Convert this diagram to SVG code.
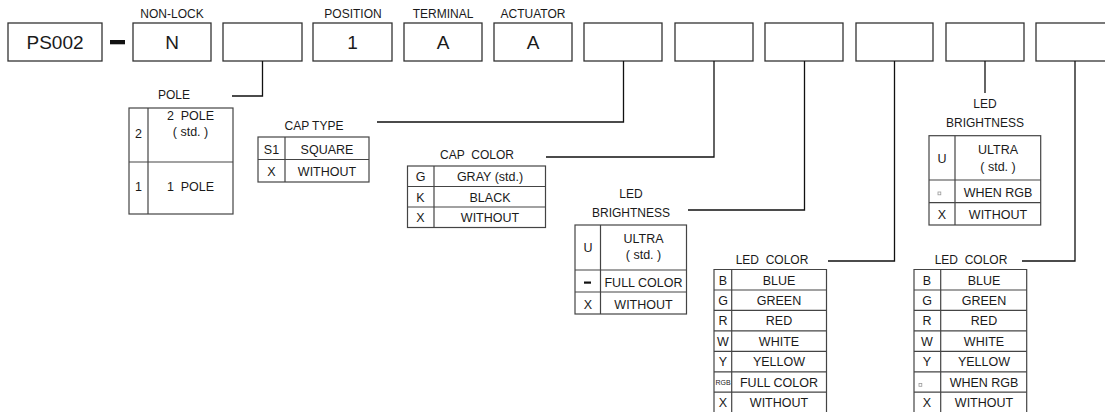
<svg xmlns="http://www.w3.org/2000/svg" width="1105" height="412" viewBox="0 0 1105 412">
<style>
text{font-family:"Liberation Sans",Arial,sans-serif;fill:#1a1a1a;text-anchor:middle}
.lbl{font-size:12px}
.big{font-size:19px}
.t{font-size:12.5px}
.pre{white-space:pre}
.box{fill:#fff;stroke:#333;stroke-width:1.3}
.tb{fill:none;stroke:#444;stroke-width:1.2}
.conn{fill:none;stroke:#111;stroke-width:1.3}
.sm{fill:none;stroke:#999;stroke-width:0.8}
</style>
<rect width="1105" height="412" fill="#fff"/>

<g id="top-labels">
<text class="lbl" x="172" y="18">NON-LOCK</text>
<text class="lbl" x="353" y="18">POSITION</text>
<text class="lbl" x="443" y="18">TERMINAL</text>
<text class="lbl" x="533" y="18">ACTUATOR</text>
</g>

<g id="box-ps002"><rect class="box" x="8" y="23" width="94" height="38"/><text class="big" x="55" y="49">PS002</text></g>
<g id="dash"><rect x="110" y="40" width="15" height="4.3" fill="#111"/></g>
<g id="box-n"><rect class="box" x="133" y="23" width="78" height="38"/><text class="big" x="172" y="49">N</text></g>
<g id="box-pole"><rect class="box" x="223" y="23" width="79" height="38"/></g>
<g id="box-position"><rect class="box" x="313" y="23" width="79" height="38"/><text class="big" x="352.5" y="49">1</text></g>
<g id="box-terminal"><rect class="box" x="404" y="23" width="78" height="38"/><text class="big" x="443" y="49">A</text></g>
<g id="box-actuator"><rect class="box" x="494" y="23" width="78" height="38"/><text class="big" x="533" y="49">A</text></g>
<g id="box-captype"><rect class="box" x="584" y="23" width="78" height="38"/></g>
<g id="box-capcolor"><rect class="box" x="675" y="23" width="78" height="38"/></g>
<g id="box-ledbright1"><rect class="box" x="765" y="23" width="78" height="38"/></g>
<g id="box-ledcolor1"><rect class="box" x="856" y="23" width="77" height="38"/></g>
<g id="box-ledbright2"><rect class="box" x="946" y="23" width="78" height="38"/></g>
<g id="box-ledcolor2"><rect class="box" x="1036" y="23" width="78" height="38"/></g>

<g id="connectors">
<polyline class="conn" points="262.5,61 262.5,96 232,96"/>
<polyline class="conn" points="623.5,61 623.5,122 377,122"/>
<polyline class="conn" points="714,61 714,157 546,157"/>
<polyline class="conn" points="804.5,61 804.5,210 688,210"/>
<polyline class="conn" points="894.5,61 894.5,261 828,261"/>
<polyline class="conn" points="985,61 985,93"/>
<polyline class="conn" points="1075,61 1075,261 1022,261"/>
</g>

<g id="table-pole">
<text class="lbl" x="174" y="99">POLE</text>
<rect class="tb" x="129" y="108" width="104" height="106"/>
<line class="tb" x1="148" y1="108" x2="148" y2="214"/>
<line class="tb" x1="129" y1="162" x2="233" y2="162"/>
<text class="t" x="138.5" y="138">2</text>
<text class="t pre" x="190.5" y="120">2  POLE</text>
<text class="t" x="190.5" y="136">( std. )</text>
<text class="t" x="138.5" y="191">1</text>
<text class="t pre" x="190.5" y="191">1  POLE</text>
</g>

<g id="table-captype">
<text class="lbl" x="314" y="130">CAP TYPE</text>
<rect class="tb" x="258" y="137" width="111" height="45"/>
<line class="tb" x1="285" y1="137" x2="285" y2="182"/>
<line class="tb" x1="258" y1="159.5" x2="369" y2="159.5"/>
<text class="t" x="271.5" y="153.5">S1</text>
<text class="t" x="327" y="153.5">SQUARE</text>
<text class="t" x="271.5" y="176">X</text>
<text class="t" x="327" y="176">WITHOUT</text>
</g>

<g id="table-capcolor">
<text class="lbl pre" x="477" y="159">CAP  COLOR</text>
<rect class="tb" x="407.5" y="166" width="138" height="61.5"/>
<line class="tb" x1="434" y1="166" x2="434" y2="227.5"/>
<line class="tb" x1="407.5" y1="186.5" x2="545.5" y2="186.5"/>
<line class="tb" x1="407.5" y1="207" x2="545.5" y2="207"/>
<text class="t" x="420.5" y="181">G</text>
<text class="t" x="490" y="181">GRAY (std.)</text>
<text class="t" x="420.5" y="201.5">K</text>
<text class="t" x="490" y="201.5">BLACK</text>
<text class="t" x="420.5" y="222">X</text>
<text class="t" x="490" y="222">WITHOUT</text>
</g>

<g id="table-ledbright1">
<text class="lbl" x="631" y="198">LED</text>
<text class="lbl" x="631" y="217">BRIGHTNESS</text>
<rect class="tb" x="575" y="225" width="111.5" height="89"/>
<line class="tb" x1="600.5" y1="225" x2="600.5" y2="314"/>
<line class="tb" x1="575" y1="270" x2="686.5" y2="270"/>
<line class="tb" x1="575" y1="292" x2="686.5" y2="292"/>
<text class="t" x="588" y="252">U</text>
<text class="t" x="643.5" y="243">ULTRA</text>
<text class="t" x="643.5" y="259">( std. )</text>
<rect x="584" y="281.5" width="7" height="2.2" fill="#111"/>
<text class="t" x="643.5" y="286.5">FULL COLOR</text>
<text class="t" x="588" y="308.5">X</text>
<text class="t" x="643.5" y="308.5">WITHOUT</text>
</g>

<g id="table-ledcolor1">
<text class="lbl pre" x="772" y="264">LED  COLOR</text>
<polyline class="tb" points="714,413 714,269.5 826.5,269.5 826.5,413"/>
<line class="tb" x1="731.7" y1="269.5" x2="731.7" y2="413"/>
<line class="tb" x1="714" y1="290" x2="826.5" y2="290"/>
<line class="tb" x1="714" y1="310.4" x2="826.5" y2="310.4"/>
<line class="tb" x1="714" y1="330.9" x2="826.5" y2="330.9"/>
<line class="tb" x1="714" y1="351.3" x2="826.5" y2="351.3"/>
<line class="tb" x1="714" y1="371.8" x2="826.5" y2="371.8"/>
<line class="tb" x1="714" y1="392.2" x2="826.5" y2="392.2"/>
<text class="t" x="723" y="284.5">B</text>
<text class="t" x="779" y="284.5">BLUE</text>
<text class="t" x="723" y="305">G</text>
<text class="t" x="779" y="305">GREEN</text>
<text class="t" x="723" y="325.4">R</text>
<text class="t" x="779" y="325.4">RED</text>
<text class="t" x="723" y="345.9">W</text>
<text class="t" x="779" y="345.9">WHITE</text>
<text class="t" x="723" y="366.3">Y</text>
<text class="t" x="779" y="366.3">YELLOW</text>
<text x="723" y="385" style="font-size:7px">RGB</text>
<text class="t" x="779" y="386.8">FULL COLOR</text>
<text class="t" x="723" y="407.2">X</text>
<text class="t" x="779" y="407.2">WITHOUT</text>
</g>

<g id="table-ledbright2">
<text class="lbl" x="985" y="108">LED</text>
<text class="lbl" x="985" y="127">BRIGHTNESS</text>
<rect class="tb" x="929" y="135.7" width="111.7" height="89.3"/>
<line class="tb" x1="955" y1="135.7" x2="955" y2="225"/>
<line class="tb" x1="929" y1="180" x2="1040.7" y2="180"/>
<line class="tb" x1="929" y1="202.7" x2="1040.7" y2="202.7"/>
<text class="t" x="942" y="163">U</text>
<text class="t" x="998" y="154">ULTRA</text>
<text class="t" x="998" y="170.5">( std. )</text>
<rect class="sm" x="938" y="192" width="2.8" height="2.8"/>
<text class="t" x="998" y="196.5">WHEN RGB</text>
<text class="t" x="942" y="219">X</text>
<text class="t" x="998" y="219">WITHOUT</text>
</g>

<g id="table-ledcolor2">
<text class="lbl pre" x="971" y="264">LED  COLOR</text>
<polyline class="tb" points="914,413 914,269.5 1026.7,269.5 1026.7,413"/>
<line class="tb" x1="940.7" y1="269.5" x2="940.7" y2="413"/>
<line class="tb" x1="914" y1="290" x2="1026.7" y2="290"/>
<line class="tb" x1="914" y1="310.4" x2="1026.7" y2="310.4"/>
<line class="tb" x1="914" y1="330.9" x2="1026.7" y2="330.9"/>
<line class="tb" x1="914" y1="351.3" x2="1026.7" y2="351.3"/>
<line class="tb" x1="914" y1="371.8" x2="1026.7" y2="371.8"/>
<line class="tb" x1="914" y1="392.2" x2="1026.7" y2="392.2"/>
<text class="t" x="927" y="284.5">B</text>
<text class="t" x="984" y="284.5">BLUE</text>
<text class="t" x="927" y="305">G</text>
<text class="t" x="984" y="305">GREEN</text>
<text class="t" x="927" y="325.4">R</text>
<text class="t" x="984" y="325.4">RED</text>
<text class="t" x="927" y="345.9">W</text>
<text class="t" x="984" y="345.9">WHITE</text>
<text class="t" x="927" y="366.3">Y</text>
<text class="t" x="984" y="366.3">YELLOW</text>
<rect class="sm" x="919" y="383.5" width="2.8" height="2.8"/>
<text class="t" x="984" y="386.8">WHEN RGB</text>
<text class="t" x="927" y="407.2">X</text>
<text class="t" x="984" y="407.2">WITHOUT</text>
</g>
</svg>
